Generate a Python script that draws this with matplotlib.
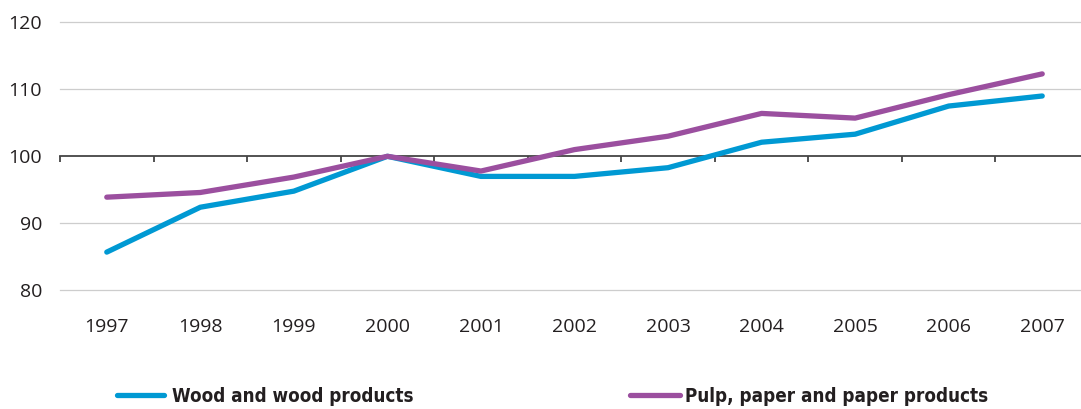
import matplotlib
matplotlib.use("Agg")
import matplotlib.pyplot as plt

years = ["1997", "1998", "1999", "2000", "2001", "2002",
         "2003", "2004", "2005", "2006", "2007"]
wood = [85.7, 92.4, 94.8, 100.0, 97.0, 97.0, 98.3, 102.1, 103.3, 107.5, 109.0]
pulp = [93.9, 94.6, 96.9, 100.0, 97.8, 101.0, 103.0, 106.4, 105.7, 109.2, 112.3]
yticks = [80, 90, 100, 110, 120]

BLUE = "#0099d3"
PURPLE = "#9b4f9f"

plt.rcParams["font.family"] = ["Open Sans", "DejaVu Sans"]

fig = plt.figure(figsize=(10.81, 4.09), dpi=100)
ax = fig.add_axes([60 / 1081, 1 - 290.3 / 409, 1029 / 1081, 268 / 409])

x = list(range(len(years)))
l1, = ax.plot(x, wood, color=BLUE, lw=3.8, solid_capstyle="round",
              solid_joinstyle="round", label="Wood and wood products", zorder=3)
l2, = ax.plot(x, pulp, color=PURPLE, lw=3.8, solid_capstyle="round",
              solid_joinstyle="round", label="Pulp, paper and paper products", zorder=3)

ax.set_xlim(-0.5, len(years) - 0.5)
ax.set_ylim(80, 120)
ax.set_yticks(yticks)
ax.set_yticklabels([str(v) for v in yticks])
ax.set_xticks(x)
ax.set_xticklabels(years)
ax.tick_params(axis="both", length=0, labelsize=14, colors="#231f20")
ax.tick_params(axis="y", pad=13)
ax.tick_params(axis="x", pad=20)

for s in ax.spines.values():
    s.set_visible(False)

for v in yticks:
    if v != 100:
        ax.axhline(v, color="#cdcdcd", lw=0.9, zorder=1, clip_on=False)

# baseline at 100 with category boundary ticks
ax.axhline(100, color="#444444", lw=1.3, zorder=2, clip_on=False)
bounds = [i - 0.5 for i in range(len(years) + 1)]
ax.vlines(bounds, 99.1, 100, color="#444444", lw=1.3, zorder=2, clip_on=False)

leg_font = {"family": "DejaVu Sans", "stretch": "condensed", "weight": "bold", "size": 13.5}
leg1 = fig.legend(handles=[l1], loc="center left", bbox_to_anchor=(100 / 1081, 1 - 396 / 409),
                  frameon=False, prop=leg_font, handlelength=2.5, handletextpad=0.45)
leg2 = fig.legend(handles=[l2], loc="center left", bbox_to_anchor=(613 / 1081, 1 - 396 / 409),
                  frameon=False, prop=leg_font, handlelength=2.65, handletextpad=0.3)
for leg in (leg1, leg2):
    for t in leg.get_texts():
        t.set_color("#231f20")

fig.savefig("out.png", dpi=100)
